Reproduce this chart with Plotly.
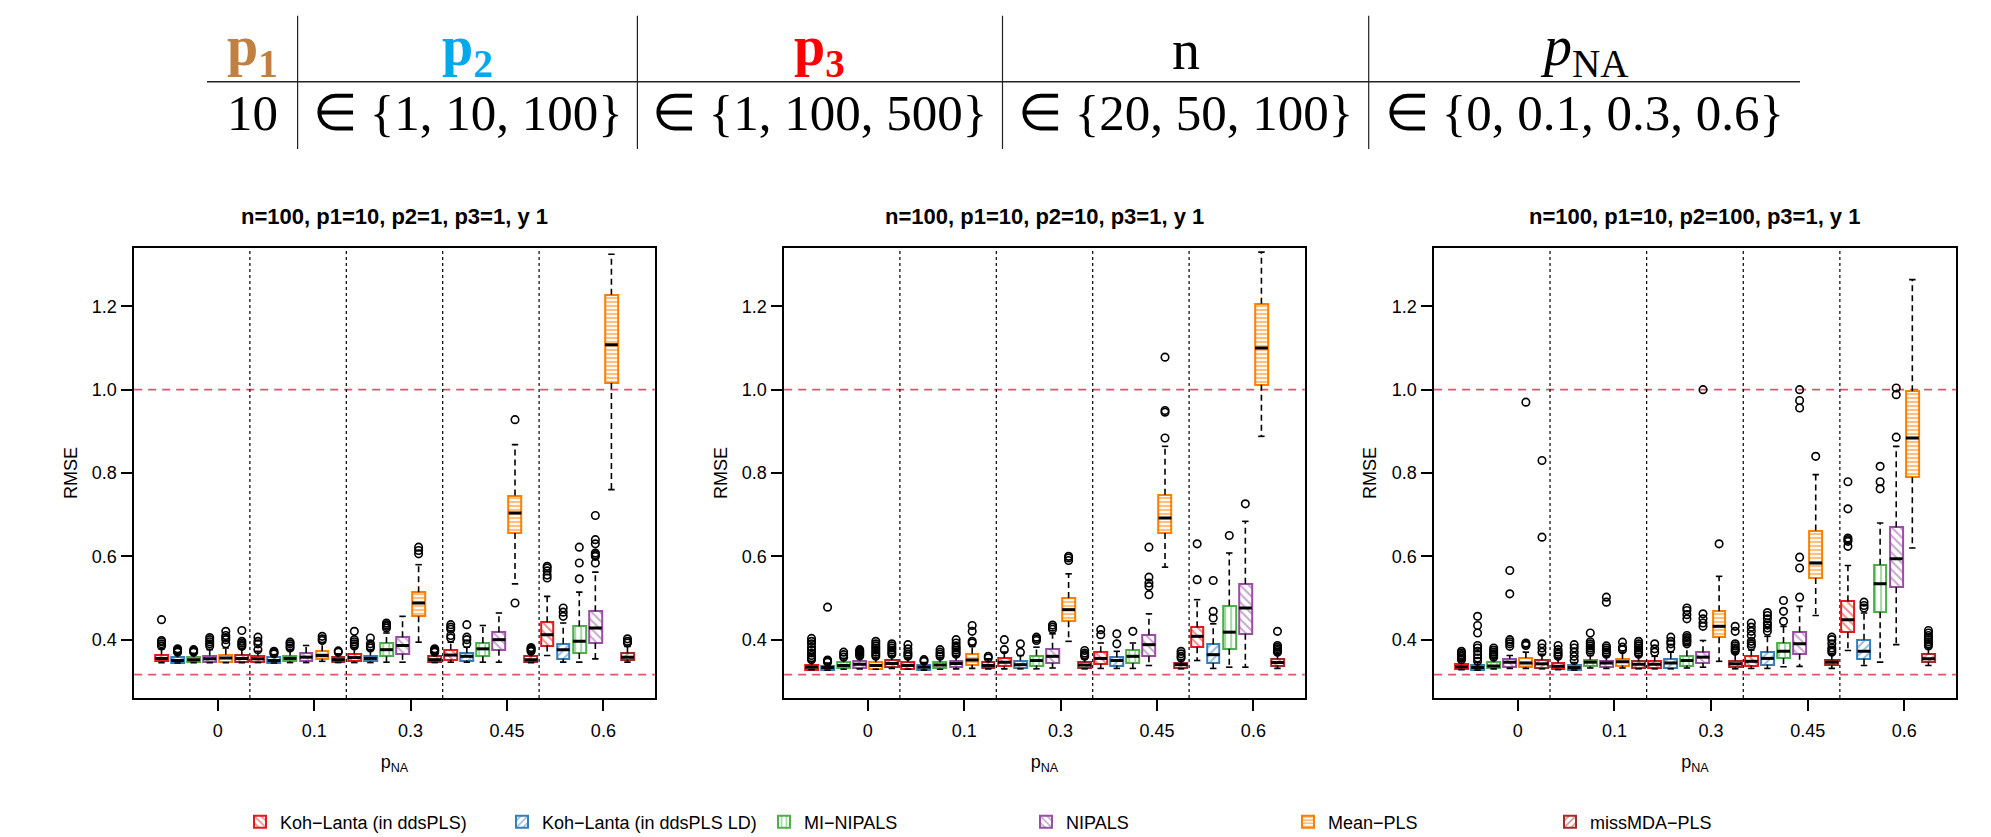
import plotly.graph_objects as go

# ---------------- data ----------------
METHODS = ["Koh\u2212Lanta (in ddsPLS)", "Koh\u2212Lanta (in ddsPLS LD)", "MI\u2212NIPALS",
           "NIPALS", "Mean\u2212PLS", "missMDA\u2212PLS"]
COLORS = ["#E41A1C", "#377EB8", "#4DAF4A", "#984EA3", "#FF7F00", "#A52A2A"]
PATTERN_SHAPES = ["\\", "/", "|", "\\", "-", "/"]
PNA_LEVELS = ["0", "0.1", "0.3", "0.45", "0.6"]
PANEL_TITLES = ["n=100, p1=10, p2=1, p3=1, y 1",
                "n=100, p1=10, p2=10, p3=1, y 1",
                "n=100, p1=10, p2=100, p3=1, y 1"]
REF_LINES = [1.0, 0.316]

TABLE_HEADER = ["<b>p<sub>1</sub></b>", "<b>p<sub>2</sub></b>", "<b>p<sub>3</sub></b>", "n",
                "<i>p</i><sub>NA</sub>"]
TABLE_HEADER_COLORS = ["#BF8040", "#00A8EC", "#FF0000", "#000000", "#000000"]
TABLE_VALUES = ["10", "\u2208 {1, 10, 100}", "\u2208 {1, 100, 500}", "\u2208 {20, 50, 100}",
                "\u2208 {0, 0.1, 0.3, 0.6}"]

# Panel 1 : n=100, p2=1  (box order per pNA group: 6 methods)
p1_lo = [.345, .344, .345, .345, .345, .345,
         .345, .344, .345, .345, .348, .345,
         .345, .345, .346, .346, .394, .345,
         .346, .346, .346, .346, .534, .345,
         .362, .346, .346, .354, .760, .346]
p1_q1 = [.348, .344, .346, .346, .346, .346,
         .346, .344, .348, .348, .354, .346,
         .348, .348, .360, .366, .456, .346,
         .352, .350, .360, .376, .656, .346,
         .386, .354, .368, .392, 1.016, .352]
p1_med = [.355, .350, .352, .354, .356, .355,
          .354, .350, .355, .358, .362, .352,
          .357, .355, .376, .386, .488, .352,
          .363, .360, .378, .400, .704, .352,
          .412, .376, .396, .428, 1.108, .358]
p1_q3 = [.364, .358, .358, .362, .364, .364,
         .360, .358, .362, .368, .372, .358,
         .366, .362, .392, .406, .514, .360,
         .376, .368, .392, .418, .746, .360,
         .442, .390, .432, .468, 1.228, .368]
p1_hi = [.378, .366, .366, .376, .380, .378,
         .372, .364, .375, .386, .392, .366,
         .380, .375, .416, .456, .580, .368,
         .394, .382, .434, .464, .868, .368,
         .504, .440, .514, .562, 1.325, .384]
p1_out = [[.385, .390, .395, .398, .448], [.370, .372, .375, .378], [.370, .373, .376],
          [.385, .390, .395, .400, .405], [.390, .400, .405, .410, .420], [.384, .388, .392, .396, .422],
          [.376, .390, .396, .406], [.366, .369, .372], [.380, .385, .390, .394],
          [], [.398, .402, .408], [.370, .373],
          [.385, .390, .395, .400, .420], [.380, .384, .390, .404], [.428, .432, .436, .440],
          [], [.606, .614, .622], [.370, .372, .374, .376, .378],
          [.404, .410, .425, .430, .436], [.390, .400, .406, .436], [],
          [], [.488, .928], [.372, .375, .378, .381],
          [.548, .555, .565, .572, .576], [.456, .466, .476], [.546, .584, .622],
          [.584, .600, .604, .608, .630, .640, .698], [], [.392, .396, .402]]

# Panel 2 : n=100, p2=10
p2_lo = [.328, .327, .329, .330, .329, .331,
         .329, .327, .329, .330, .331, .330,
         .330, .330, .330, .332, .396, .330,
         .331, .331, .331, .338, .574, .330,
         .350, .331, .334, .334, .888, .331]
p2_q1 = [.328, .328, .331, .332, .330, .334,
         .330, .328, .331, .334, .340, .332,
         .336, .331, .338, .344, .444, .332,
         .342, .338, .344, .360, .656, .332,
         .382, .344, .378, .414, 1.012, .338]
p2_med = [.334, .333, .338, .341, .338, .343,
          .338, .334, .339, .343, .351, .338,
          .346, .340, .350, .360, .472, .339,
          .355, .350, .360, .388, .692, .340,
          .408, .364, .418, .476, 1.100, .345]
p2_q3 = [.340, .338, .346, .350, .346, .351,
         .346, .340, .346, .350, .366, .346,
         .356, .350, .362, .378, .500, .346,
         .370, .358, .376, .412, .748, .344,
         .430, .389, .482, .534, 1.206, .354]
p2_hi = [.348, .344, .354, .358, .356, .360,
         .355, .345, .356, .360, .384, .354,
         .370, .362, .382, .414, .558, .354,
         .392, .372, .392, .462, .864, .352,
         .496, .438, .608, .684, 1.330, .366]
p2_out = [[.352, .356, .362, .368, .375, .382, .390, .396, .403], [.346, .348, .351, .478],
          [.358, .364, .370], [.361, .364, .367, .370, .373, .376],
          [.360, .365, .370, .375, .380, .385, .390, .396], [.365, .370, .375, .380, .385, .390],
          [.360, .365, .370, .378, .388], [.348, .352], [.360, .365, .370, .376],
          [.365, .370, .375, .380, .385, .392, .400], [.392, .396, .420, .434], [.356, .360],
          [.376, .400], [.370, .390], [.398, .402, .406],
          [.425, .430, .435], [.590, .596, .600], [.360, .364, .368, .374],
          [.412, .424], [.390, .414], [.420],
          [.508, .528, .536, .550, .622], [.884, .946, .950, 1.078], [.356, .360, .366, .372],
          [.544, .630], [.452, .468, .542], [.650],
          [.726], [], [.370, .374, .378, .382, .386, .420]]

# Panel 3 : n=100, p2=100
p3_lo = [.328, .327, .330, .331, .331, .330,
         .328, .327, .332, .331, .332, .330,
         .330, .330, .332, .334, .348, .330,
         .331, .331, .335, .336, .458, .331,
         .374, .338, .346, .388, .620, .338]
p3_q1 = [.330, .328, .332, .334, .334, .332,
         .330, .328, .336, .334, .338, .332,
         .332, .332, .338, .344, .406, .334,
         .338, .340, .356, .366, .548, .339,
         .418, .354, .466, .526, .790, .346]
p3_med = [.335, .333, .337, .346, .344, .342,
          .336, .333, .346, .344, .347, .341,
          .341, .344, .350, .358, .432, .342,
          .348, .355, .372, .390, .584, .346,
          .448, .372, .534, .594, .884, .354]
p3_q3 = [.342, .339, .346, .354, .356, .352,
         .344, .340, .352, .350, .354, .348,
         .348, .354, .360, .370, .468, .350,
         .360, .370, .392, .418, .662, .352,
         .492, .400, .580, .670, .996, .366]
p3_hi = [.350, .345, .355, .362, .370, .365,
         .355, .345, .362, .360, .370, .360,
         .360, .370, .386, .398, .552, .368,
         .375, .408, .432, .480, .796, .365,
         .578, .464, .680, .864, 1.264, .380]
p3_out = [[.352, .356, .360, .364, .368, .372],
          [.348, .356, .364, .372, .380, .386, .416, .434, .456],
          [.358, .362, .366, .370, .375, .380], [.384, .390, .395, .400, .510, .566],
          [.386, .389, .392, .970], [.370, .380, .390, .646, .830],
          [.360, .365, .370, .376, .386], [.350, .360, .370, .380, .388],
          [.370, .375, .380, .385, .390, .395, .416], [.365, .370, .375, .380, .385, .490, .502],
          [.376, .382, .394], [.365, .370, .375, .380, .385, .390, .396],
          [.370, .378, .390], [.380, .390, .396, .406],
          [.390, .396, .400, .405, .410, .450, .460, .470, .476],
          [.432, .440, .450, .462, 1.000], [.630], [.372, .376, .380, .385, .390, .420, .432],
          [.385, .390, .396, .410, .420, .430, .440], [.420, .428, .435, .440, .450, .458, .465],
          [.444, .468, .494], [.502, .572, .598, .956, .974, 1.000], [.840],
          [.370, .375, .380, .390, .400, .406],
          [.624, .636, .640, .644, .714, .779], [.476, .482, .490], [.762, .779, .816],
          [.886, .988, 1.004], [], [.385, .390, .395, .400, .405, .410, .416, .422]]

PANELS = [
    dict(lo=p1_lo, q1=p1_q1, med=p1_med, q3=p1_q3, hi=p1_hi, out=p1_out),
    dict(lo=p2_lo, q1=p2_q1, med=p2_med, q3=p2_q3, hi=p2_hi, out=p2_out),
    dict(lo=p3_lo, q1=p3_q1, med=p3_med, q3=p3_q3, hi=p3_hi, out=p3_out),
]

# ---------------- layout constants ----------------
W, H = 1991, 837
OFF = 8                      # default page margin around the figure
FW, FH = W - OFF, H - OFF    # figure size so that it exactly fills the window


def px(x):
    return (x - OFF) / FW


def py(y):
    return 1 - (y - OFF) / FH


NM, NG = len(METHODS), len(PNA_LEVELS)
BOX_W = 0.8
CAP_W = 0.4
X_RANGE = [-0.7, NM * NG + 1.7]
Y_RANGE = [0.26, 1.34]
PANEL_X_PX = [(134.2, 654.8), (784.2, 1304.8), (1434.1, 1955.8)]
PANEL_Y_PX = (248, 698)
TITLE_Y_PX = 216.7
SANS = "Liberation Sans, Arial, Helvetica, sans-serif"
SERIF = "Liberation Serif, Times New Roman, serif"

fig = go.Figure()

for k, P in enumerate(PANELS):
    xa = "x" if k == 0 else f"x{k + 1}"
    ya = "y" if k == 0 else f"y{k + 1}"
    n = NM * NG
    pos = [i + 1 for i in range(n)]
    # boxes (bars with hatching)
    for m in range(NM):
        idx = [g * NM + m for g in range(NG)]
        fig.add_trace(go.Bar(
            x=[pos[i] for i in idx],
            y=[P["q3"][i] - P["q1"][i] for i in idx],
            base=[P["q1"][i] for i in idx],
            width=BOX_W,
            marker=dict(color="white", line=dict(color=COLORS[m], width=2),
                        pattern=dict(shape=PATTERN_SHAPES[m], fgcolor=COLORS[m], bgcolor="white",
                                     size=6 if m != 4 else 4, solidity=0.35 if m != 4 else 0.55)),
            name=METHODS[m], legendgroup=METHODS[m], showlegend=(k == 0),
            xaxis=xa, yaxis=ya, hoverinfo="skip"))
    # whiskers, caps, medians, outliers
    wx, wy = [], []
    cx, cy = [], []
    mx, my = [], []
    ox, oy = [], []
    for i in range(n):
        x = pos[i]
        wx += [x, x, None, x, x, None]
        wy += [P["q3"][i], P["hi"][i], None, P["q1"][i], P["lo"][i], None]
        cx += [x - CAP_W / 2, x + CAP_W / 2, None, x - CAP_W / 2, x + CAP_W / 2, None]
        cy += [P["hi"][i], P["hi"][i], None, P["lo"][i], P["lo"][i], None]
        mx += [x - BOX_W / 2, x + BOX_W / 2, None]
        my += [P["med"][i], P["med"][i], None]
        for v in P["out"][i]:
            ox.append(x)
            oy.append(v)
    fig.add_trace(go.Scatter(x=wx, y=wy, mode="lines", line=dict(color="black", width=1.6, dash="6px,4px"),
                             showlegend=False, xaxis=xa, yaxis=ya, hoverinfo="skip"))
    fig.add_trace(go.Scatter(x=cx, y=cy, mode="lines", line=dict(color="black", width=1.6),
                             showlegend=False, xaxis=xa, yaxis=ya, hoverinfo="skip"))
    fig.add_trace(go.Scatter(x=mx, y=my, mode="lines", line=dict(color="black", width=3),
                             showlegend=False, xaxis=xa, yaxis=ya, hoverinfo="skip"))
    fig.add_trace(go.Scatter(x=ox, y=oy, mode="markers",
                             marker=dict(symbol="circle-open", size=7.5, color="black", line=dict(width=1.6)),
                             showlegend=False, xaxis=xa, yaxis=ya, hoverinfo="skip"))

    # reference lines
    for v in REF_LINES:
        fig.add_shape(type="line", xref=f"{xa} domain", yref=ya, x0=0, x1=1, y0=v, y1=v,
                      line=dict(color="#DF536B", width=1.8, dash="8px,6px"), layer="below")
    # group separators
    for g in range(1, NG):
        xs = g * NM + 0.5
        fig.add_shape(type="line", xref=xa, yref=f"{ya} domain", x0=xs, x1=xs, y0=0, y1=1,
                      line=dict(color="black", width=1.2, dash="dot"), layer="below")

    x0p, x1p = PANEL_X_PX[k]
    axis_common = dict(showline=True, mirror=True, linecolor="black", linewidth=1.5,
                       ticks="outside", ticklen=11, tickwidth=1.5, tickcolor="black",
                       showgrid=False, zeroline=False, automargin=False,
                       tickfont=dict(family=SANS, size=18, color="black"))
    fig.layout[f"xaxis{'' if k == 0 else k + 1}"] = dict(
        domain=[px(x0p), px(x1p)], anchor=ya, range=X_RANGE,
        tickvals=[g * NM + 4.5 for g in range(NG)], ticktext=PNA_LEVELS, ticklabelstandoff=5,
        title=dict(text="p<sub>NA</sub>", font=dict(family=SANS, size=18, color="black"), standoff=15),
        **axis_common)
    fig.layout[f"yaxis{'' if k == 0 else k + 1}"] = dict(
        domain=[py(PANEL_Y_PX[1]), py(PANEL_Y_PX[0])], anchor=xa, range=Y_RANGE,
        tickvals=[0.4, 0.6, 0.8, 1.0, 1.2], ticktext=["0.4", "0.6", "0.8", "1.0", "1.2"],
        ticklabelstandoff=1,
        title=dict(text="RMSE", font=dict(family=SANS, size=18, color="black"), standoff=10),
        **axis_common)
    fig.add_annotation(text=f"<b>{PANEL_TITLES[k]}</b>", xref="paper", yref="paper",
                       x=px((x0p + x1p) / 2), y=py(TITLE_Y_PX), xanchor="center", yanchor="middle",
                       showarrow=False, font=dict(family=SANS, size=22, color="black"))

# ---------------- top table ----------------
COL_BOUNDS = [207, 297.6, 637.4, 1002.5, 1368.7, 1800]
fig.add_shape(type="line", xref="paper", yref="paper", x0=px(COL_BOUNDS[0]), x1=px(COL_BOUNDS[-1]),
              y0=py(81.7), y1=py(81.7), line=dict(color="#222222", width=1.5))
for b in COL_BOUNDS[1:-1]:
    fig.add_shape(type="line", xref="paper", yref="paper", x0=px(b), x1=px(b),
                  y0=py(15.7), y1=py(149), line=dict(color="#222222", width=1.2))
for j in range(len(TABLE_HEADER)):
    cxp = px((COL_BOUNDS[j] + COL_BOUNDS[j + 1]) / 2)
    fig.add_annotation(text=TABLE_HEADER[j], xref="paper", yref="paper", x=cxp, y=py(50),
                       xanchor="center", yanchor="middle", showarrow=False,
                       font=dict(family=SERIF, size=56, color=TABLE_HEADER_COLORS[j]))
    fig.add_annotation(text=TABLE_VALUES[j], xref="paper", yref="paper", x=cxp, y=py(113),
                       xanchor="center", yanchor="middle", showarrow=False,
                       font=dict(family=SERIF, size=51, color="black"))

fig.update_layout(
    width=FW, height=FH, margin=dict(l=0, r=0, t=0, b=0, autoexpand=False),
    paper_bgcolor="white", plot_bgcolor="white", barmode="overlay", bargap=0,
    showlegend=True,
    legend=dict(orientation="h", x=px(240), y=py(822), xanchor="left", yanchor="middle",
                entrywidth=217, entrywidthmode="pixels", itemwidth=30,
                font=dict(family=SANS, size=18, color="black"), bgcolor="rgba(0,0,0,0)"),
)

fig.write_html("out.html")
